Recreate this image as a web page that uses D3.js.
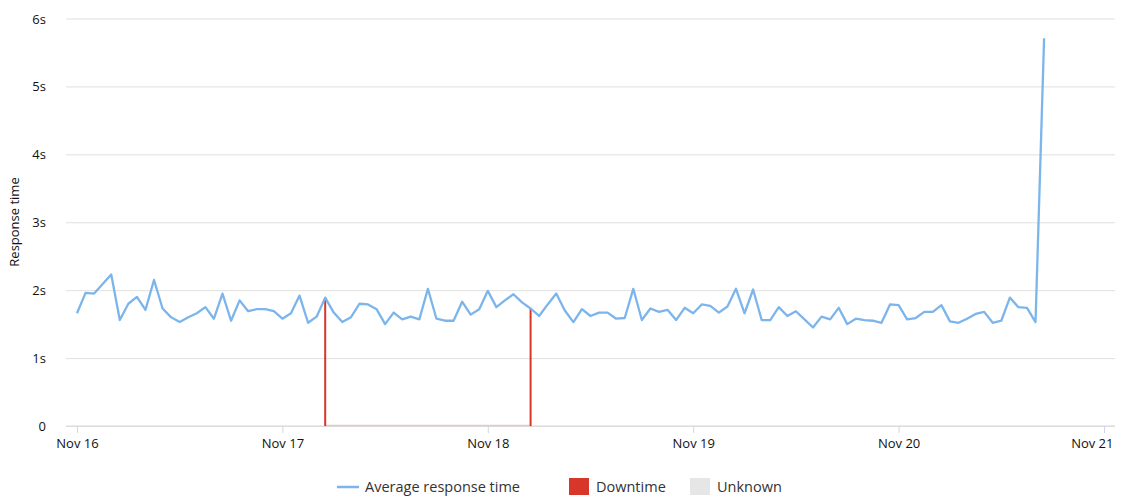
<!DOCTYPE html>
<html>
<head>
<meta charset="utf-8">
<script src="https://cdn.jsdelivr.net/npm/d3@7"></script>
<style>
  body { margin: 0; background: #fff; }
  text { font-family: "Open Sans", Lato, sans-serif; fill: #222; }
</style>
</head>
<body>
<svg id="chart"></svg>
<script>
var width = 1124;
var height = 503;

// hourly averages from Nov 16 00:00
var startTime = new Date(2020, 10, 16, 0, 0);
var responseTimes = [
  1.66, 1.96, 1.95, 2.09, 2.23, 1.56, 1.80, 1.90, 1.71, 2.15, 1.73, 1.60,
  1.53, 1.60, 1.66, 1.75, 1.58, 1.95, 1.55, 1.85, 1.69, 1.72, 1.72, 1.69,
  1.58, 1.66, 1.92, 1.52, 1.61, 1.89, 1.67, 1.53, 1.60, 1.80, 1.79, 1.72,
  1.50, 1.67, 1.57, 1.61, 1.57, 2.02, 1.58, 1.55, 1.55, 1.83, 1.64, 1.72,
  1.99, 1.75, 1.85, 1.94, 1.82, 1.73, 1.62, 1.79, 1.95, 1.70, 1.53, 1.72,
  1.62, 1.67, 1.67, 1.58, 1.59, 2.02, 1.56, 1.73, 1.68, 1.71, 1.56, 1.74,
  1.66, 1.79, 1.77, 1.67, 1.76, 2.02, 1.66, 2.01, 1.56, 1.56, 1.75, 1.62,
  1.69, 1.57, 1.45, 1.61, 1.57, 1.74, 1.50, 1.58, 1.56, 1.55, 1.52, 1.79,
  1.78, 1.57, 1.59, 1.68, 1.68, 1.78, 1.54, 1.52, 1.58, 1.65, 1.68, 1.52,
  1.55, 1.89, 1.75, 1.74, 1.53, 5.71
];
var downtimeHours = [29, 53];
var yTicks = [0, 1, 2, 3, 4, 5, 6];
var dayTicks = ["2020-11-16", "2020-11-17", "2020-11-18", "2020-11-19", "2020-11-20", "2020-11-21"];

var legendItems = [
  { label: "Average response time", type: "line", color: "#7cb5ec" },
  { label: "Downtime", type: "box", color: "#d9362b" },
  { label: "Unknown", type: "box", color: "#e6e6e6" }
];

var data = responseTimes.map(function(v, i) {
  return { t: d3.timeHour.offset(startTime, i), v: v, i: i };
});

var parseDay = d3.timeParse("%Y-%m-%d");

var xScale = d3.scaleTime()
        .domain([parseDay(dayTicks[0]), parseDay(dayTicks[dayTicks.length - 1])])
        .range([77, 1104]);

var yScale = d3.scaleLinear()
        .domain([0, 6])
        .range([426, 18.5]);

var svg = d3.select("#chart")
    .attr("width", width)
    .attr("height", height);

// grid
var yAxis = d3.axisLeft(yScale)
        .tickValues(yTicks)
        .tickSize(-(1115 - 66))
        .tickFormat(function(d) { return d === 0 ? "0" : d + "s"; });

var gy = svg.append("g")
    .attr("transform", "translate(66,0)")
    .call(yAxis);
gy.select(".domain").remove();
gy.selectAll(".tick line").attr("stroke", "#e0e0e0");
gy.selectAll(".tick text")
    .attr("x", -20)
    .attr("dy", "0.35em")
    .style("font-size", "13px")
    .style("fill", "#111");

// x axis
var xAxis = d3.axisBottom(xScale)
        .tickValues(dayTicks.map(parseDay))
        .tickSize(7)
        .tickSizeOuter(0)
        .tickFormat(d3.timeFormat("%b %-d"));

var gx = svg.append("g")
    .attr("transform", "translate(0,426)")
    .call(xAxis);
gx.select(".domain").remove();
gx.selectAll(".tick line").attr("stroke", "#ccd6eb");
gx.selectAll(".tick text")
    .attr("y", 13)
    .style("font-size", "13px")
    .style("fill", "#111");
// last label pulled inside the plot like the original
gx.selectAll(".tick:last-of-type text")
    .attr("x", 9)
    .style("text-anchor", "end");

svg.append("line")
    .attr("x1", 66).attr("x2", 1115)
    .attr("y1", 426).attr("y2", 426)
    .attr("stroke", "#d8d8d8");

// downtime span along baseline
var dtStart = data[downtimeHours[0]].t;
var dtEnd = data[downtimeHours[downtimeHours.length - 1]].t;
svg.append("line")
    .attr("x1", xScale(dtStart)).attr("x2", xScale(dtEnd))
    .attr("y1", 425.5).attr("y2", 425.5)
    .attr("stroke", "#e8c8c6")
    .attr("stroke-width", 1.5);

// downtime bars
svg.selectAll(".downtime")
    .data(downtimeHours.map(function(h) { return data[h]; }))
    .enter()
    .append("rect")
        .attr("class", "downtime")
        .attr("x", d => xScale(d.t) - 1)
        .attr("width", 2)
        .attr("y", d => yScale(d.v))
        .attr("height", d => yScale(0) - yScale(d.v))
        .attr("fill", "#d9362b");

// response line
var line = d3.line()
    .x(d => xScale(d.t))
    .y(d => yScale(d.v));

svg.append("path")
    .datum(data)
    .attr("d", line)
    .attr("fill", "none")
    .attr("stroke", "#7cb5ec")
    .attr("stroke-width", 2.3)
    .attr("stroke-linejoin", "round");

// y title
svg.append("text")
    .attr("transform", "rotate(-90)")
    .attr("x", -222)
    .attr("y", 19)
    .style("text-anchor", "middle")
    .style("font-size", "13px")
    .style("fill", "#111")
    .text("Response time");

// legend
var legendX = [337, 569, 690];
var lg = svg.selectAll(".legend")
    .data(legendItems)
    .enter()
    .append("g")
        .attr("class", "legend")
        .attr("transform", (d, i) => "translate(" + legendX[i] + ",487)");

lg.filter(d => d.type === "line")
    .append("line")
        .attr("x1", 0).attr("x2", 22)
        .attr("y1", 0).attr("y2", 0)
        .attr("stroke", d => d.color)
        .attr("stroke-width", 2.5);

lg.filter(d => d.type === "box")
    .append("rect")
        .attr("x", 0).attr("y", -9)
        .attr("width", 20).attr("height", 17)
        .attr("fill", d => d.color);

lg.append("text")
    .attr("x", d => d.type === "line" ? 28 : 27)
    .attr("dy", "0.35em")
    .style("font-size", "14.5px")
    .style("fill", "#333")
    .text(d => d.label);
</script>
</body>
</html>
